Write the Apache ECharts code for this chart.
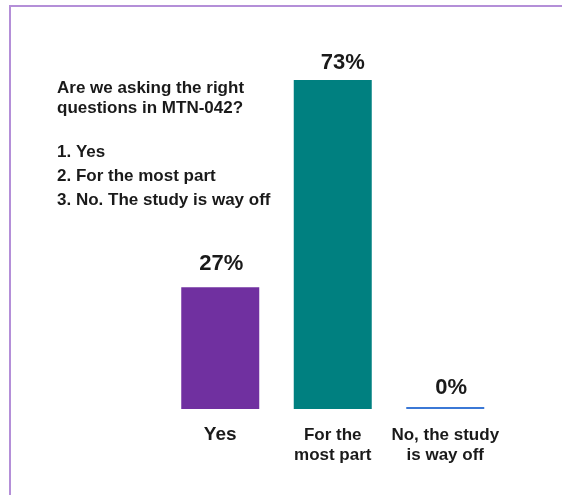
<!DOCTYPE html>
<html>
<head>
<meta charset="utf-8">
<script src="https://cdn.jsdelivr.net/npm/echarts@6/dist/echarts.min.js"></script>
<style>
  html, body { margin: 0; padding: 0; background: #ffffff; }
  #chart { width: 562px; height: 495px; }
</style>
</head>
<body>
<div id="chart"></div>
<script>
// Poll answers and their shares (%)
const categories = ['Yes', 'For the\nmost part', 'No, the study\nis way off'];
const shares = [27, 73, 0];
const barColors = ['#7030a0', '#008080', '#3b78d6'];

// Question shown beside the bars
const questionLines = ['Are we asking the right', 'questions in MTN-042?'];
const optionLines = ['1. Yes', '2. For the most part', '3. No. The study is way off'];

const FONT = '"Liberation Sans", Arial, sans-serif';
const labelGaps = [12, 6, 8];
const labelShifts = [[1, 0], [10, 0], [6, 0]];
const catFontSizes = [19, 17, 17];

const chart = echarts.init(document.getElementById('chart'), null, { renderer: 'canvas' });

const textEls = [];
questionLines.forEach((t, i) => {
  textEls.push({
    type: 'text', left: 57, top: 80 + i * 20,
    style: { text: t, font: 'bold 17px ' + FONT, fill: '#1a1a1a' }
  });
});
optionLines.forEach((t, i) => {
  textEls.push({
    type: 'text', left: 57, top: 144 + i * 24,
    style: { text: t, font: 'bold 17px ' + FONT, fill: '#1a1a1a' }
  });
});

chart.setOption({
  animation: false,
  backgroundColor: '#ffffff',
  grid: { left: 164, right: 60.5, top: 48.4, bottom: 86, containLabel: false },
  xAxis: {
    type: 'category',
    data: categories.map((c, i) => ({
      value: c,
      textStyle: { fontSize: catFontSizes[i] }
    })),
    axisLine: { show: false },
    axisTick: { show: false },
    axisLabel: {
      interval: 0,
      margin: 16,
      color: '#1a1a1a',
      fontFamily: FONT,
      fontWeight: 'bold',
      fontSize: 17,
      lineHeight: 20
    }
  },
  yAxis: {
    type: 'value', min: 0, max: 80,
    show: false,
    splitLine: { show: false }
  },
  series: [{
    type: 'bar',
    barWidth: 78,
    barMinHeight: 2,
    data: shares.map((v, i) => ({
      value: v,
      itemStyle: { color: barColors[i] },
      label: { distance: labelGaps[i], offset: labelShifts[i] }
    })),
    label: {
      show: true,
      position: 'top',
      formatter: '{c}%',
      color: '#1a1a1a',
      fontFamily: FONT,
      fontWeight: 'bold',
      fontSize: 22
    }
  }],
  graphic: [
    {
      type: 'polyline',
      shape: { points: [[10, 495], [10, 6], [562, 6]] },
      style: { stroke: '#b48fd8', lineWidth: 2, fill: null }
    }
  ].concat(textEls)
});
</script>
</body>
</html>
